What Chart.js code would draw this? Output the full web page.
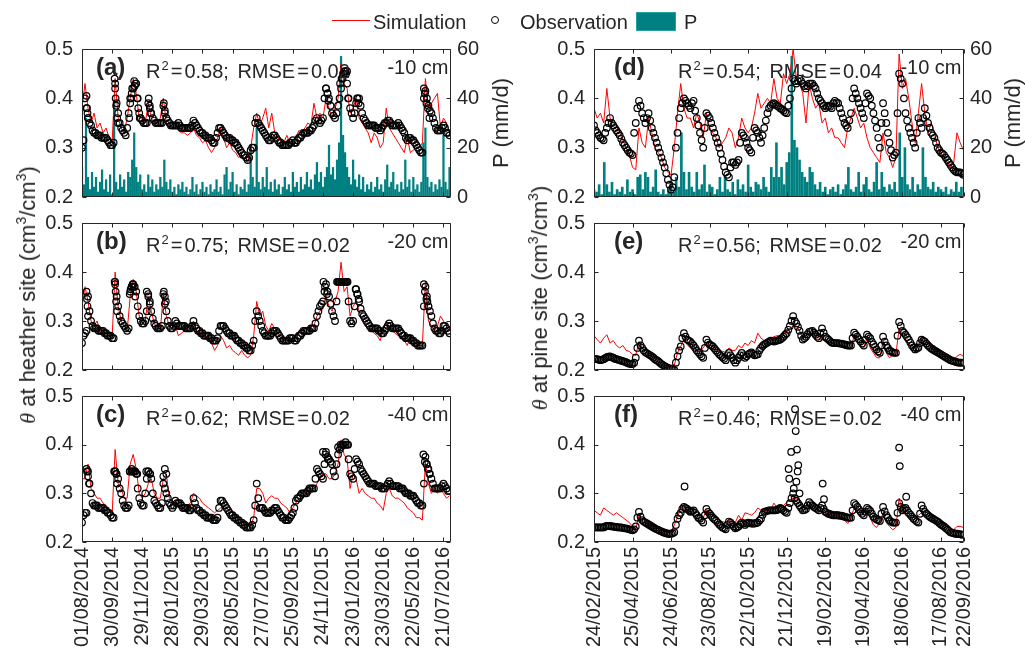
<!DOCTYPE html>
<html>
<head>
<meta charset="utf-8">
<script src="https://cdn.jsdelivr.net/npm/chart.js@4.4.1/dist/chart.umd.min.js"></script>
<style>
html,body{margin:0;padding:0;background:#fff;}
#fig{position:relative;width:1025px;height:652px;overflow:hidden;font-family:"Liberation Sans",Arial,sans-serif;color:#262626;}
#fig canvas{position:absolute;left:0;top:0;}
.t{position:absolute;font-size:20px;line-height:20px;white-space:nowrap;}
.lab{position:absolute;font-size:24px;line-height:24px;font-weight:bold;white-space:nowrap;}
.rot{position:absolute;transform:translate(-50%,-50%) rotate(-90deg);font-size:22px;line-height:22px;white-space:nowrap;}
.sp{font-size:13px;position:relative;top:-8px;vertical-align:baseline;margin-left:1px;}
.sp2{font-size:14px;position:relative;top:-9px;vertical-align:baseline;}
.eq{margin:0 2px;}
.th{font-family:"Liberation Serif","DejaVu Serif",serif;font-style:italic;}
</style>
</head>
<body>
<div id="fig">
  <!-- legend -->
  <div style="position:absolute;left:332px;top:20px;width:38px;height:1px;background:#ff0000;"></div>
  <div class="t" style="left:373px;top:12px;">Simulation</div>
  <div style="position:absolute;left:491px;top:16px;width:6px;height:6px;border:1px solid #000;border-radius:50%;"></div>
  <div class="t" style="left:520px;top:12px;">Observation</div>
  <div style="position:absolute;left:636px;top:12px;width:38px;height:17px;background:#008080;border:1px solid #2aa0a0;"></div>
  <div class="t" style="left:684px;top:12px;">P</div>

  <!-- axis titles -->
  <div class="rot" style="left:29px;top:295px;"><span class="th">θ</span> at heather site (cm<span class="sp2">3</span>/cm<span class="sp2">3</span>)</div>
  <div class="rot" style="left:541px;top:298px;"><span class="th">θ</span> at pine site (cm<span class="sp2">3</span>/cm<span class="sp2">3</span>)</div>
  <div class="rot" style="left:501px;top:123px;">P (mm/d)</div>
  <div class="rot" style="left:1013px;top:123px;">P (mm/d)</div>
</div>

<script>
// ---------------- tick labels ----------------
const leftTickDays = [0,60,120,180,240,300,360,420,480,540,600,660,720];
const leftTickLabels = ['01/08/2014','30/09/2014','29/11/2014','28/01/2015','29/03/2015','28/05/2015','27/07/2015','25/09/2015','24/11/2015','23/01/2016','23/03/2016','22/05/2016','21/07/2016'];
const rightTickDays = [0,60,120,180,240,300,360,420,480,540,576];
const rightTickLabels = ['24/02/2015','25/04/2015','24/06/2015','23/08/2015','22/10/2015','21/12/2015','19/02/2016','19/04/2016','18/06/2016','17/08/2016','22/09/2016'];
const yTicks = [0.2,0.3,0.4,0.5];
const pTicks = [0,20,40,60];

// sampling (days): main readings every step days; "Mid" readings half a step later
const leftThetaStep = 6, leftPStep = 4, rightThetaStep = 5, rightPStep = 4;

// ---------------- heather site ----------------
const obsA = [0.30,0.40,0.36,0.345,0.33,0.325,0.325,0.32,0.32,0.31,
 0.305,0.43,0.37,0.34,0.33,0.34,0.40,0.42,0.43,0.37,
 0.355,0.35,0.39,0.37,0.355,0.35,0.35,0.385,0.36,0.35,
 0.345,0.345,0.35,0.34,0.34,0.34,0.34,0.355,0.345,0.335,
 0.33,0.325,0.32,0.315,0.31,0.33,0.34,0.33,0.32,0.32,
 0.315,0.31,0.30,0.29,0.285,0.275,0.295,0.30,0.36,0.345,
 0.335,0.325,0.315,0.32,0.325,0.315,0.31,0.305,0.305,0.31,
 0.315,0.31,0.32,0.325,0.33,0.33,0.335,0.345,0.36,0.35,
 0.36,0.42,0.40,0.37,0.36,0.385,0.42,0.45,0.455,0.38,
 0.36,0.39,0.40,0.37,0.355,0.345,0.345,0.345,0.34,0.335,
 0.345,0.35,0.355,0.345,0.345,0.35,0.34,0.33,0.315,0.32,
 0.315,0.305,0.295,0.29,0.415,0.385,0.37,0.35,0.335,0.335,
 0.345,0.33,0.325];
const obsAMid = [.315,.38,.35,.335,.33,.325,.32,.32,.315,.305,
 .31,.39,.35,.335,.325,.37,.41,.425,.40,.36,
 .35,.35,.38,.36,.35,.35,.35,.37,.355,.345,
 .345,.345,.345,.34,.34,.34,.345,.35,.34,.33,
 .325,.32,.32,.31,.32,.34,.335,.325,.32,.315,
 .31,.305,.295,.285,.28,.28,.30,.35,.35,.34,
 .33,.32,.315,.325,.32,.31,.305,.305,.305,.31,
 .31,.315,.32,.33,.33,.335,.34,.355,.355,.355,
 .40,.41,.385,.365,.37,.40,.44,.455,.40,.37,
 .37,.40,.385,.36,.35,.345,.345,.34,.34,.34,
 .35,.355,.35,.345,.345,.345,.335,.32,.32,.315,
 .31,.30,.29,.40,.40,.375,.36,.34,.335,.34,
 .34,.33];
const obsAExtraDay = [9,10,11,12,65,66,67,68,70,72,94,96,98,100,104,107,110,112,115,133,135,137,163,165,168,486,489,491,514,517,520,523,526,528,530,548,551,681,683,686,689,692];
const obsAExtraVal = [0.405,0.38,0.37,0.36,0.44,0.42,0.40,0.385,0.36,0.35,0.36,0.39,0.40,0.42,0.435,0.43,0.40,0.38,0.36,0.40,0.385,0.37,0.39,0.375,0.36,0.42,0.41,0.395,0.43,0.44,0.45,0.455,0.45,0.43,0.40,0.40,0.39,0.42,0.41,0.39,0.38,0.36];
const simA = [0.38,0.43,0.38,0.35,0.37,0.34,0.35,0.33,0.34,0.32,
 0.31,0.44,0.36,0.34,0.33,0.36,0.40,0.44,0.41,0.36,
 0.36,0.35,0.39,0.36,0.35,0.35,0.36,0.40,0.35,0.34,
 0.34,0.34,0.335,0.33,0.33,0.325,0.33,0.34,0.325,0.32,
 0.31,0.315,0.30,0.29,0.30,0.32,0.34,0.32,0.30,0.31,
 0.295,0.29,0.28,0.285,0.275,0.27,0.30,0.34,0.37,0.345,
 0.36,0.38,0.34,0.37,0.33,0.32,0.315,0.31,0.325,0.31,
 0.315,0.32,0.335,0.33,0.34,0.35,0.345,0.39,0.36,0.37,
 0.36,0.40,0.38,0.36,0.38,0.40,0.47,0.43,0.42,0.37,
 0.38,0.40,0.36,0.35,0.34,0.33,0.31,0.33,0.32,0.30,
 0.31,0.38,0.34,0.33,0.32,0.31,0.30,0.29,0.32,0.29,
 0.295,0.30,0.30,0.31,0.44,0.38,0.39,0.40,0.41,0.34,
 0.36,0.35,0.33];
const precipHeather = [12,5,32,8,3,10,4,8,2,6,
 11,3,7,2,9,1,38,6,3,9,
 4,7,2,10,8,15,26,12,6,9,
 3,5,2,9,4,7,2,5,3,8,
 4,15,6,3,7,2,4,1,5,3,
 6,2,4,1,3,8,2,5,1,3,
 6,2,4,1,5,2,3,7,2,4,
 1,9,12,3,6,10,2,5,1,4,
 3,7,2,5,20,8,4,28,6,3,
 8,4,12,3,6,2,7,3,5,1,
 4,8,3,5,2,10,4,6,2,8,
 3,5,10,4,7,3,9,14,6,10,
 4,8,12,21,9,12,7,15,22,57,
 25,18,12,8,5,15,7,4,9,3,
 8,2,5,3,6,2,4,8,3,5,
 2,7,13,4,6,10,3,5,2,6,
 3,15,4,7,2,8,3,5,2,6,
 22,28,8,4,6,2,5,3,7,4,
 25,6,3,12];
const obsB = [0.255,0.275,0.35,0.30,0.285,0.285,0.28,0.28,0.275,0.27,
 0.265,0.38,0.33,0.30,0.29,0.28,0.36,0.375,0.36,0.31,
 0.295,0.30,0.355,0.32,0.295,0.285,0.285,0.355,0.32,0.29,
 0.285,0.30,0.29,0.29,0.29,0.285,0.285,0.30,0.285,0.28,
 0.275,0.27,0.27,0.265,0.26,0.265,0.29,0.29,0.28,0.275,
 0.27,0.265,0.26,0.255,0.25,0.245,0.24,0.26,0.32,0.30,
 0.28,0.27,0.27,0.275,0.28,0.275,0.265,0.26,0.26,0.265,
 0.265,0.26,0.27,0.275,0.28,0.28,0.285,0.285,0.31,0.33,
 0.34,0.375,0.35,0.32,0.30,0.38,0.38,0.38,0.38,0.30,
 0.30,0.365,0.34,0.315,0.305,0.295,0.285,0.285,0.285,0.28,
 0.275,0.285,0.295,0.285,0.285,0.285,0.275,0.27,0.265,0.265,
 0.26,0.255,0.25,0.25,0.37,0.33,0.31,0.285,0.28,0.275,
 0.29,0.285,0.275];
const obsBMid = [.27,.28,.32,.29,.285,.28,.28,.275,.27,.27,
 .265,.35,.31,.295,.285,.285,.37,.37,.33,.30,
 .295,.32,.335,.305,.29,.285,.29,.335,.30,.285,
 .29,.295,.29,.29,.285,.285,.29,.29,.28,.275,
 .27,.27,.265,.26,.26,.28,.29,.285,.275,.27,
 .27,.26,.255,.25,.245,.24,.25,.30,.31,.29,
 .275,.27,.27,.28,.28,.27,.26,.26,.26,.265,
 .26,.265,.27,.28,.28,.28,.285,.295,.32,.335,
 .36,.36,.335,.31,.34,.38,.38,.38,.34,.295,
 .33,.355,.325,.31,.30,.29,.285,.285,.28,.275,
 .28,.29,.29,.285,.285,.28,.27,.265,.265,.26,
 .255,.25,.25,.33,.35,.32,.295,.28,.275,.28,
 .29,.28];
const obsBExtraDay = [9,10,11,12,65,66,67,68,70,95,97,99,101,103,106,129,132,135,163,165,167,481,484,488,508,511,514,517,520,523,526,529,545,548,551,681,683,686,688,690];
const obsBExtraVal = [0.36,0.345,0.33,0.31,0.38,0.375,0.36,0.34,0.32,0.355,0.365,0.37,0.375,0.37,0.35,0.36,0.35,0.34,0.36,0.35,0.34,0.38,0.37,0.355,0.38,0.38,0.38,0.38,0.38,0.38,0.38,0.38,0.365,0.355,0.345,0.375,0.36,0.345,0.34,0.33];
const simB = [0.33,0.37,0.34,0.30,0.29,0.30,0.28,0.28,0.275,0.27,
 0.265,0.40,0.33,0.30,0.29,0.28,0.35,0.385,0.36,0.31,
 0.295,0.30,0.35,0.32,0.295,0.285,0.28,0.355,0.31,0.29,
 0.285,0.29,0.27,0.275,0.28,0.285,0.29,0.30,0.28,0.275,
 0.27,0.27,0.265,0.255,0.24,0.25,0.27,0.26,0.245,0.25,
 0.24,0.235,0.23,0.24,0.23,0.225,0.23,0.27,0.34,0.31,
 0.32,0.29,0.28,0.295,0.285,0.275,0.27,0.26,0.265,0.26,
 0.265,0.27,0.28,0.28,0.285,0.285,0.29,0.29,0.31,0.32,
 0.33,0.35,0.33,0.32,0.34,0.36,0.42,0.36,0.37,0.31,
 0.33,0.34,0.32,0.30,0.29,0.285,0.28,0.275,0.27,0.26,
 0.285,0.30,0.285,0.28,0.275,0.27,0.265,0.26,0.25,0.27,
 0.26,0.255,0.25,0.25,0.38,0.30,0.29,0.28,0.29,0.31,
 0.30,0.29,0.28];
const obsC = [0.24,0.26,0.345,0.30,0.275,0.275,0.27,0.27,0.265,0.26,
 0.25,0.345,0.33,0.30,0.275,0.27,0.345,0.345,0.34,0.29,
 0.275,0.30,0.345,0.33,0.285,0.275,0.27,0.32,0.30,0.28,
 0.27,0.285,0.28,0.275,0.27,0.27,0.265,0.29,0.27,0.265,
 0.26,0.255,0.25,0.25,0.245,0.25,0.285,0.28,0.27,0.26,
 0.255,0.25,0.245,0.24,0.235,0.23,0.23,0.245,0.32,0.27,
 0.27,0.26,0.26,0.265,0.27,0.265,0.255,0.25,0.245,0.25,
 0.26,0.285,0.29,0.30,0.30,0.305,0.31,0.31,0.35,0.34,
 0.33,0.385,0.37,0.36,0.335,0.38,0.395,0.40,0.40,0.34,
 0.33,0.37,0.36,0.345,0.335,0.325,0.32,0.32,0.315,0.315,
 0.31,0.315,0.325,0.315,0.315,0.315,0.31,0.305,0.30,0.295,
 0.295,0.285,0.28,0.275,0.375,0.35,0.33,0.31,0.31,0.31,
 0.32,0.31,0.305];
const obsCMid = [.255,.26,.32,.28,.275,.27,.27,.265,.26,.255,
 .25,.34,.31,.285,.27,.275,.345,.345,.31,.28,
 .275,.33,.34,.30,.28,.27,.28,.31,.29,.275,
 .275,.28,.28,.27,.27,.265,.27,.28,.265,.26,
 .255,.25,.25,.245,.245,.27,.285,.275,.265,.255,
 .25,.245,.24,.235,.23,.23,.235,.275,.29,.27,
 .265,.26,.26,.265,.27,.26,.25,.245,.245,.255,
 .27,.29,.295,.30,.30,.31,.31,.33,.345,.335,
 .36,.375,.365,.345,.36,.39,.40,.40,.37,.335,
 .35,.365,.35,.34,.33,.32,.32,.315,.315,.31,
 .31,.32,.32,.315,.315,.31,.31,.30,.30,.295,
 .29,.28,.275,.32,.36,.34,.32,.31,.31,.315,
 .315,.305];
const obsCExtraDay = [9,10,12,14,64,66,68,70,95,99,102,106,110,128,132,136,162,165,168,480,485,490,510,515,520,525,530,680,683,686,689,692];
const obsCExtraVal = [0.35,0.345,0.335,0.32,0.345,0.345,0.34,0.32,0.345,0.35,0.345,0.345,0.34,0.345,0.345,0.34,0.335,0.35,0.34,0.385,0.38,0.37,0.395,0.40,0.40,0.405,0.40,0.38,0.365,0.36,0.35,0.34];
const simC = [0.33,0.33,0.36,0.31,0.30,0.29,0.29,0.28,0.275,0.265,
 0.255,0.39,0.32,0.31,0.29,0.29,0.36,0.38,0.35,0.30,
 0.29,0.30,0.32,0.33,0.30,0.29,0.29,0.33,0.34,0.29,
 0.285,0.28,0.275,0.27,0.27,0.275,0.28,0.30,0.295,0.29,
 0.28,0.275,0.27,0.265,0.26,0.265,0.27,0.27,0.27,0.265,
 0.26,0.255,0.25,0.245,0.245,0.24,0.235,0.25,0.31,0.31,
 0.30,0.28,0.29,0.295,0.29,0.29,0.28,0.275,0.27,0.26,
 0.27,0.28,0.29,0.29,0.30,0.30,0.31,0.31,0.32,0.33,
 0.34,0.34,0.33,0.33,0.34,0.36,0.41,0.38,0.37,0.31,
 0.34,0.33,0.30,0.31,0.30,0.295,0.29,0.29,0.28,0.275,
 0.265,0.30,0.31,0.295,0.29,0.29,0.285,0.28,0.27,0.265,
 0.26,0.25,0.25,0.245,0.365,0.32,0.30,0.31,0.30,0.31,
 0.30,0.29,0.295];

// ---------------- pine site ----------------
const obsD = [0.345,0.33,0.32,0.315,0.34,0.36,0.345,0.335,0.325,0.31,
 0.30,0.29,0.285,0.35,0.395,0.37,0.35,0.37,0.34,0.32,
 0.30,0.28,0.26,0.235,0.215,0.24,0.33,0.38,0.40,0.39,
 0.38,0.395,0.36,0.33,0.30,0.37,0.36,0.34,0.32,0.30,
 0.275,0.25,0.24,0.27,0.265,0.275,0.33,0.32,0.30,0.29,
 0.34,0.33,0.31,0.34,0.37,0.385,0.39,0.385,0.38,0.375,
 0.37,0.40,0.44,0.43,0.44,0.43,0.42,0.43,0.43,0.42,
 0.40,0.39,0.38,0.385,0.38,0.395,0.39,0.37,0.35,0.34,
 0.37,0.42,0.40,0.38,0.36,0.41,0.40,0.37,0.34,0.30,
 0.39,0.35,0.31,0.28,0.29,0.45,0.43,0.37,0.34,0.32,
 0.30,0.36,0.34,0.38,0.35,0.33,0.32,0.30,0.29,0.285,
 0.275,0.265,0.255,0.25,0.25,0.245];
const obsDMid = [.335,.325,.318,.33,.35,.35,.34,.33,.318,.305,
 .295,.288,.33,.38,.385,.36,.36,.355,.33,.31,
 .29,.27,.248,.225,.22,.30,.36,.39,.395,.385,
 .39,.375,.345,.315,.34,.365,.35,.33,.31,.288,
 .262,.245,.26,.27,.27,.31,.325,.31,.295,.32,
 .335,.32,.325,.355,.38,.388,.388,.383,.378,.372,
 .385,.42,.435,.435,.435,.425,.425,.43,.425,.41,
 .395,.385,.383,.383,.39,.392,.38,.36,.345,.355,
 .40,.41,.39,.37,.39,.405,.385,.355,.32,.35,
 .37,.33,.295,.285,.37,.44,.40,.355,.33,.31,
 .33,.35,.36,.365,.34,.325,.31,.295,.288,.28,
 .27,.26,.252,.25,.248];
const simD = [0.38,0.36,0.37,0.35,0.42,0.36,0.35,0.345,0.33,0.315,
 0.30,0.285,0.26,0.255,0.34,0.31,0.30,0.36,0.33,0.30,
 0.29,0.28,0.26,0.25,0.245,0.30,0.37,0.43,0.38,0.36,
 0.36,0.34,0.37,0.35,0.32,0.37,0.34,0.33,0.32,0.30,
 0.31,0.32,0.34,0.33,0.30,0.32,0.36,0.34,0.33,0.34,
 0.37,0.41,0.38,0.39,0.40,0.39,0.44,0.40,0.39,0.45,
 0.43,0.45,0.50,0.44,0.43,0.41,0.35,0.43,0.40,0.38,
 0.39,0.35,0.36,0.33,0.34,0.32,0.32,0.31,0.30,0.34,
 0.36,0.38,0.36,0.34,0.35,0.32,0.30,0.29,0.28,0.27,
 0.33,0.29,0.28,0.26,0.28,0.49,0.42,0.44,0.40,0.35,
 0.31,0.37,0.43,0.37,0.33,0.35,0.33,0.30,0.29,0.28,
 0.27,0.26,0.27,0.33,0.31,0.295];
const precipPine = [3,2,5,1,14,5,2,6,1,3,
 2,4,1,7,2,3,1,8,9,3,
 10,8,2,4,11,2,1,3,1,3,
 6,2,8,4,26,10,3,10,4,2,
 10,3,5,13,2,5,4,1,3,8,
 2,8,3,2,6,1,7,3,5,2,
 13,4,2,6,5,3,8,4,2,12,
 8,22,8,12,5,14,18,57,23,20,
 15,10,8,6,12,10,5,3,6,2,
 4,1,3,4,2,5,1,3,5,12,
 3,2,4,10,2,5,8,3,2,6,
 14,3,10,4,2,5,3,6,2,26,
 8,20,5,3,8,2,5,3,20,8,
 4,3,6,2,4,3,2,4,1,3,
 2,6,2,4];
const obsE = [0.222,0.222,0.22,0.222,0.226,0.228,0.225,0.222,0.22,0.218,
 0.216,0.213,0.212,0.225,0.26,0.245,0.236,0.232,0.228,0.222,
 0.218,0.212,0.208,0.204,0.202,0.2,0.228,0.248,0.275,0.262,
 0.258,0.25,0.24,0.232,0.225,0.262,0.252,0.248,0.24,0.232,
 0.226,0.22,0.235,0.225,0.215,0.225,0.235,0.225,0.232,0.236,
 0.23,0.232,0.245,0.252,0.256,0.26,0.258,0.26,0.262,0.268,
 0.275,0.29,0.31,0.295,0.28,0.262,0.268,0.278,0.28,0.272,
 0.265,0.285,0.268,0.262,0.256,0.255,0.255,0.254,0.252,0.25,
 0.25,0.276,0.268,0.258,0.25,0.272,0.265,0.252,0.242,0.235,
 0.268,0.25,0.24,0.236,0.235,0.298,0.28,0.272,0.262,0.25,
 0.242,0.246,0.262,0.258,0.25,0.244,0.24,0.236,0.232,0.228,
 0.224,0.22,0.218,0.216,0.215,0.215];
const obsEMid = [.222,.221,.221,.224,.227,.226,.223,.221,.219,.217,
 .214,.212,.215,.245,.25,.24,.234,.23,.225,.22,
 .215,.21,.206,.203,.201,.215,.24,.265,.268,.26,
 .254,.245,.236,.228,.245,.256,.25,.244,.236,.229,
 .223,.23,.23,.22,.22,.23,.23,.228,.234,.233,
 .231,.24,.249,.254,.258,.259,.259,.261,.265,.272,
 .282,.30,.30,.288,.27,.265,.273,.279,.276,.268,
 .275,.276,.265,.259,.255,.255,.254,.253,.251,.25,
 .265,.272,.263,.254,.262,.268,.258,.247,.238,.25,
 .258,.245,.238,.235,.27,.29,.276,.267,.256,.246,
 .244,.255,.26,.254,.247,.242,.238,.234,.23,.226,
 .222,.219,.217,.215,.215];
const simE = [0.27,0.262,0.255,0.265,0.272,0.255,0.26,0.25,0.245,0.25,
 0.24,0.238,0.232,0.23,0.258,0.245,0.24,0.235,0.23,0.226,
 0.225,0.22,0.215,0.212,0.21,0.21,0.235,0.248,0.262,0.252,
 0.245,0.245,0.24,0.242,0.245,0.255,0.25,0.25,0.242,0.24,
 0.238,0.236,0.245,0.24,0.24,0.25,0.245,0.255,0.25,0.26,
 0.255,0.275,0.265,0.26,0.262,0.265,0.268,0.27,0.27,0.275,
 0.28,0.285,0.29,0.29,0.28,0.265,0.27,0.275,0.275,0.27,
 0.265,0.262,0.26,0.258,0.255,0.255,0.255,0.25,0.248,0.245,
 0.245,0.27,0.26,0.25,0.245,0.265,0.245,0.235,0.225,0.225,
 0.26,0.235,0.225,0.23,0.232,0.285,0.27,0.26,0.255,0.245,
 0.248,0.25,0.265,0.258,0.255,0.245,0.25,0.238,0.235,0.23,
 0.228,0.222,0.22,0.228,0.232,0.228];
const obsF = [0.23,0.23,0.23,0.23,0.233,0.233,0.232,0.231,0.23,0.229,
 0.228,0.226,0.224,0.232,0.262,0.245,0.24,0.236,0.232,0.228,
 0.225,0.222,0.219,0.217,0.217,0.22,0.248,0.26,0.272,0.268,
 0.262,0.265,0.255,0.248,0.24,0.268,0.258,0.25,0.244,0.236,
 0.23,0.226,0.242,0.236,0.228,0.232,0.24,0.235,0.24,0.238,
 0.238,0.24,0.248,0.262,0.264,0.265,0.265,0.266,0.27,0.265,
 0.26,0.28,0.30,0.285,0.275,0.265,0.268,0.282,0.275,0.27,
 0.265,0.275,0.262,0.258,0.256,0.255,0.255,0.254,0.252,0.25,
 0.25,0.28,0.272,0.262,0.255,0.27,0.264,0.252,0.246,0.243,
 0.272,0.255,0.245,0.24,0.24,0.28,0.265,0.27,0.26,0.252,
 0.245,0.24,0.275,0.262,0.255,0.25,0.246,0.242,0.236,0.232,
 0.226,0.22,0.218,0.217,0.216,0.215];
const obsFMid = [.23,.23,.23,.232,.233,.232,.231,.23,.23,.228,
 .227,.225,.226,.25,.252,.242,.238,.234,.23,.226,
 .223,.22,.218,.217,.218,.235,.255,.268,.27,.265,
 .263,.26,.25,.244,.255,.262,.254,.247,.24,.233,
 .228,.235,.24,.232,.23,.236,.238,.238,.239,.238,
 .239,.244,.256,.263,.265,.265,.265,.268,.268,.262,
 .27,.29,.29,.28,.27,.266,.275,.278,.272,.268,
 .27,.268,.26,.257,.255,.255,.254,.253,.251,.25,
 .265,.276,.267,.258,.262,.267,.258,.249,.245,.258,
 .263,.25,.242,.24,.26,.272,.268,.265,.256,.248,
 .242,.258,.268,.258,.252,.248,.244,.239,.234,.229,
 .223,.219,.217,.216,.215];
// isolated high readings at -40 cm (pine)
const obsFExtraDay = [141,303,304,307,311,313,314,315,316,317,318,320,356,358,475,476,486];
const obsFExtraVal = [0.314,0.35,0.33,0.385,0.31,0.473,0.428,0.324,0.39,0.345,0.358,0.30,0.32,0.288,0.394,0.356,0.293];
const simF = [0.265,0.26,0.255,0.27,0.265,0.26,0.255,0.26,0.255,0.25,
 0.245,0.24,0.232,0.226,0.255,0.24,0.24,0.236,0.235,0.232,
 0.228,0.225,0.222,0.22,0.22,0.235,0.25,0.27,0.275,0.262,
 0.258,0.255,0.25,0.245,0.25,0.265,0.258,0.255,0.25,0.245,
 0.242,0.24,0.245,0.242,0.24,0.255,0.245,0.26,0.258,0.255,
 0.26,0.27,0.265,0.265,0.265,0.265,0.28,0.27,0.272,0.275,
 0.282,0.285,0.29,0.29,0.285,0.265,0.268,0.272,0.275,0.27,
 0.265,0.262,0.26,0.258,0.255,0.255,0.255,0.252,0.245,0.238,
 0.25,0.27,0.265,0.262,0.26,0.265,0.25,0.235,0.23,0.24,
 0.26,0.24,0.232,0.225,0.23,0.29,0.265,0.255,0.252,0.25,
 0.252,0.255,0.26,0.255,0.255,0.255,0.245,0.24,0.238,0.235,
 0.23,0.225,0.225,0.232,0.232,0.23];

// ---------------- helpers ----------------
const W = 1025, H = 652;
const FONT = '"Liberation Sans", Arial, sans-serif';
const INK = '#262626';
function series(vals, step, offset) { const o = offset || 0; return vals.map((v, i) => ({x: o + i * step, y: v})); }
function pairs(days, vals) { return days.map((d, i) => ({x: d, y: vals[i]})); }

const framePlugin = {
  id: 'frame',
  afterDraw(chart) {
    const {ctx, chartArea: a} = chart;
    const L = Math.round(a.left) + 0.5, R = Math.round(a.right) - 0.5;
    const T = Math.round(a.top) + 0.5, B = Math.round(a.bottom) - 0.5;
    ctx.save();
    ctx.strokeStyle = INK; ctx.lineWidth = 1;
    ctx.beginPath();
    ctx.rect(L, T, R - L, B - T);
    const xs = chart.scales.x, ys = chart.scales.y;
    xs.ticks.forEach(t => {
      const p = Math.round(xs.getPixelForValue(t.value)) + 0.5;
      ctx.moveTo(p, B); ctx.lineTo(p, B - 4);
      ctx.moveTo(p, T); ctx.lineTo(p, T + 4);
    });
    ys.ticks.forEach(t => {
      const p = Math.round(ys.getPixelForValue(t.value)) + 0.5;
      ctx.moveTo(L, p); ctx.lineTo(L + 4, p);
      ctx.moveTo(R, p); ctx.lineTo(R - 4, p);
    });
    ctx.stroke();
    ctx.restore();
  }
};

function addText(cls, html, style) {
  const d = document.createElement('div');
  d.className = cls; d.innerHTML = html;
  Object.assign(d.style, style);
  document.getElementById('fig').appendChild(d);
}

function makePanel(p) {
  const fig = document.getElementById('fig');
  const cv = document.createElement('canvas');
  cv.width = W; cv.height = H;
  fig.insertBefore(cv, fig.firstChild);
  const tickDays = p.right ? rightTickDays : leftTickDays;
  const tickLabels = p.right ? rightTickLabels : leftTickLabels;
  const datasets = [
    {type: 'line', label: 'Observation', data: p.obs, showLine: false, pointRadius: 3.3, pointBorderWidth: 1.2,
     pointBorderColor: '#000', pointBackgroundColor: 'rgba(0,0,0,0)', borderColor: '#000', order: 0},
    {type: 'line', label: 'Simulation', data: p.sim, borderColor: '#ff0000', borderWidth: 1, pointRadius: 0,
     tension: 0, fill: false, order: 1}
  ];
  if (p.precip) {
    datasets.push({type: 'bar', label: 'P', data: p.precip, yAxisID: 'yP', backgroundColor: '#008080',
      barThickness: p.right ? 2 : 1.6, order: 2});
  }
  const scales = {
    x: {
      type: 'linear', min: 0, max: p.xMax, offset: false, position: 'bottom',
      grid: {display: false, drawTicks: false}, border: {display: false},
      ticks: {display: !!p.dates, autoSkip: false, minRotation: 90, maxRotation: 90, padding: 5,
        color: INK, font: {size: 20, family: FONT}, callback: (v, i) => tickLabels[i]},
      afterBuildTicks: s => { s.ticks = tickDays.map(v => ({value: v})); },
      afterFit: s => { s.height = H - p.bottom; }
    },
    y: {
      type: 'linear', position: 'left', min: 0.2, max: 0.5,
      grid: {display: false, drawTicks: false}, border: {display: false},
      ticks: {padding: 9, color: INK, font: {size: 20, family: FONT}, callback: v => v.toFixed(1)},
      afterBuildTicks: s => { s.ticks = yTicks.map(v => ({value: v})); },
      afterFit: s => { s.width = p.left; }
    }
  };
  if (p.precip) {
    scales.yP = {
      type: 'linear', position: 'right', min: 0, max: 60,
      grid: {display: false, drawTicks: false}, border: {display: false},
      ticks: {padding: 6, color: INK, font: {size: 20, family: FONT}, callback: v => String(v)},
      afterBuildTicks: s => { s.ticks = pTicks.map(v => ({value: v})); },
      afterFit: s => { s.width = W - p.rightEdge; }
    };
  }
  new Chart(cv, {
    type: 'line',
    data: {datasets},
    options: {
      responsive: false, animation: false, events: [],
      layout: {padding: {left: 0, top: p.top, bottom: 0, right: p.precip ? 0 : W - p.rightEdge}},
      plugins: {legend: {display: false}, tooltip: {enabled: false}},
      scales
    },
    plugins: [framePlugin]
  });

  // annotations (real text)
  const labOff = p.right ? 20 : 14;
  const r2Off = p.right ? 84 : 64;
  addText('lab', p.tag, {left: (p.left + labOff) + 'px', top: (p.top + 6) + 'px'});
  addText('t', 'R<span class="sp">2</span><span class="eq">=</span>' + p.r2 + '; RMSE<span class="eq">=</span>' + p.rmse,
    {left: (p.left + r2Off) + 'px', top: (p.top + 12) + 'px', wordSpacing: '3px'});
  addText('t', p.depth, {right: (W - p.rightEdge + 2.5) + 'px', top: (p.top + 8) + 'px'});
}

const LC = {left: 82, rightEdge: 451, xMax: 735};
const RC = {left: 594, rightEdge: 964, xMax: 576};
const rows = [{top: 49, bottom: 197}, {top: 223, bottom: 370}, {top: 396, bottom: 542}];
const LH = leftThetaStep / 2, RH = rightThetaStep / 2;

makePanel(Object.assign({}, LC, rows[0], {tag: '(a)', r2: '0.58', rmse: '0.02', depth: '-10 cm',
  obs: series(obsA, leftThetaStep).concat(series(obsAMid, leftThetaStep, LH), pairs(obsAExtraDay, obsAExtraVal)),
  sim: series(simA, leftThetaStep), precip: series(precipHeather, leftPStep)}));
makePanel(Object.assign({}, LC, rows[1], {tag: '(b)', r2: '0.75', rmse: '0.02', depth: '-20 cm',
  obs: series(obsB, leftThetaStep).concat(series(obsBMid, leftThetaStep, LH), pairs(obsBExtraDay, obsBExtraVal)),
  sim: series(simB, leftThetaStep)}));
makePanel(Object.assign({}, LC, rows[2], {tag: '(c)', r2: '0.62', rmse: '0.02', depth: '-40 cm', dates: true,
  obs: series(obsC, leftThetaStep).concat(series(obsCMid, leftThetaStep, LH), pairs(obsCExtraDay, obsCExtraVal)),
  sim: series(simC, leftThetaStep)}));
makePanel(Object.assign({}, RC, rows[0], {right: true, tag: '(d)', r2: '0.54', rmse: '0.04', depth: '-10 cm',
  obs: series(obsD, rightThetaStep).concat(series(obsDMid, rightThetaStep, RH)),
  sim: series(simD, rightThetaStep), precip: series(precipPine, rightPStep)}));
makePanel(Object.assign({}, RC, rows[1], {right: true, tag: '(e)', r2: '0.56', rmse: '0.02', depth: '-20 cm',
  obs: series(obsE, rightThetaStep).concat(series(obsEMid, rightThetaStep, RH)),
  sim: series(simE, rightThetaStep)}));
makePanel(Object.assign({}, RC, rows[2], {right: true, tag: '(f)', r2: '0.46', rmse: '0.02', depth: '-40 cm', dates: true,
  obs: series(obsF, rightThetaStep).concat(series(obsFMid, rightThetaStep, RH), pairs(obsFExtraDay, obsFExtraVal)),
  sim: series(simF, rightThetaStep)}));
</script>
</body>
</html>
